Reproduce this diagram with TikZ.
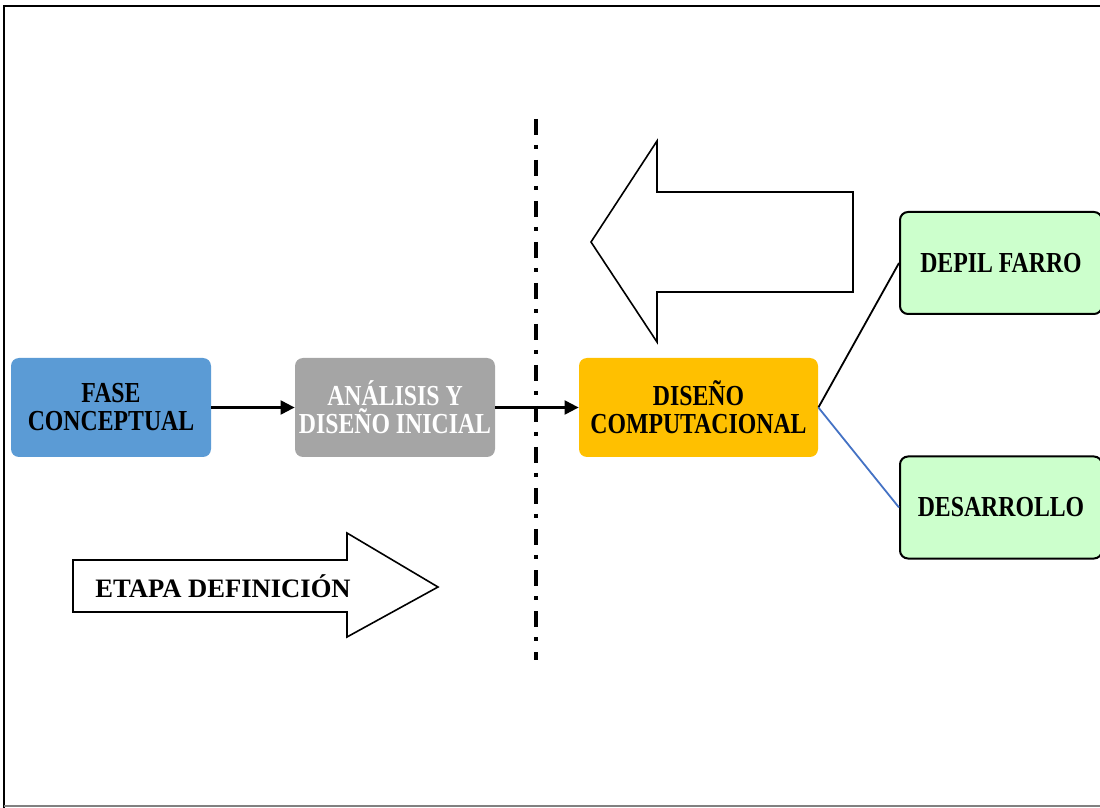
\documentclass[tikz,border=0pt]{standalone}
\usepackage{fontspec}
\setmainfont{Liberation Serif}
\newfontfamily\boxfont[FakeStretch=0.82]{Liberation Serif}
\usetikzlibrary{arrows.meta}
\definecolor{faseblue}{HTML}{5B9BD5}
\definecolor{grisbox}{HTML}{A5A5A5}
\definecolor{naranja}{HTML}{FFC000}
\definecolor{verdebox}{HTML}{CCFFCC}
\definecolor{azulline}{HTML}{4472C4}

\tikzset{
  fasebox/.style={rounded corners=4pt, minimum width=100pt, minimum height=49.5pt,
    inner sep=0pt, align=center, font=\boxfont\bfseries\fontsize{14.5}{14}\selectfont},
  salida/.style={fasebox, draw=black, line width=1pt, fill=verdebox,
    minimum width=101pt, minimum height=51pt},
  flecha/.style={line width=1.1pt, -{Triangle[length=7pt,width=7pt]}},
  hueca/.style={draw=black, line width=0.8pt, fill=white},
  divisor/.style={line width=1.8pt, dash pattern=on 8pt off 5pt on 2pt off 5.5pt}
}

\begin{document}
\begin{tikzpicture}[x=0.5pt,y=-0.5pt]
\useasboundingbox (0,0) rectangle (1100,808);
\draw[line width=1pt] (4,808) -- (4,6) -- (1100,6);
\draw[gray, line width=0.8pt] (4,806) -- (1100,806);

% big hollow arrows
\draw[hueca] (853,192) -- (657,192) -- (657,141) -- (591,242)
    -- (657,342) -- (657,292) -- (853,292) -- cycle;
\draw[hueca] (73,560) -- (347,560) -- (347,533) -- (438,587)
    -- (347,637) -- (347,612) -- (73,612) -- cycle;
\node[font=\bfseries\fontsize{13.3}{14}\selectfont] (etapa) at (223,586) {ETAPA DEFINICIÓN};

\draw[divisor] (536,119) -- (536,660);

\node[fasebox, fill=faseblue] (fase) at (111,407.5) {FASE\\CONCEPTUAL};
\node[fasebox, fill=grisbox, text=white] (analisis) at (395,407.5) {ANÁLISIS Y\\DISEÑO INICIAL};
\node[fasebox, fill=naranja, minimum width=119.5pt] (diseno) at (698.5,407.5) {DISEÑO\\COMPUTACIONAL};
\node[salida] (depil) at (1001,263) {DEPIL FARRO};
\node[salida] (desarrollo) at (1001,507.5) {DESARROLLO};

\draw[flecha] (fase) -- (analisis);
\draw[flecha] (analisis) -- (diseno);
\draw[line width=0.9pt] (diseno.east) -- (depil.west);
\draw[azulline, line width=0.9pt] (diseno.east) -- (desarrollo.west);

\end{tikzpicture}
\end{document}
